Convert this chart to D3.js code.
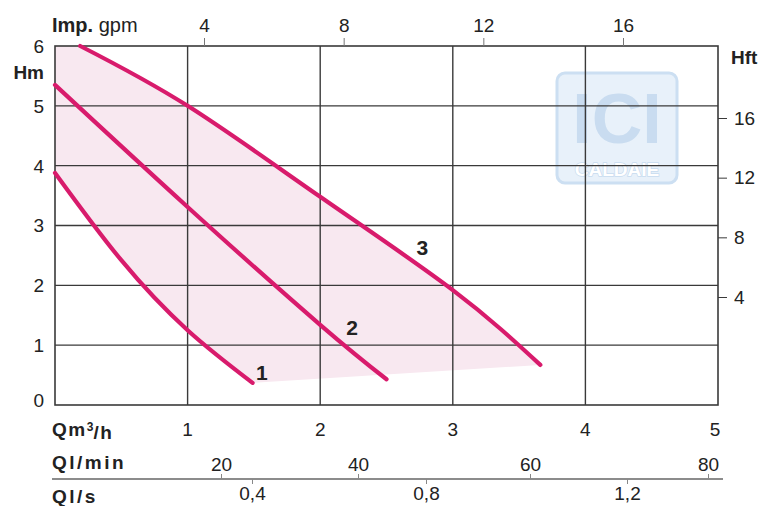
<!DOCTYPE html>
<html>
<head>
<meta charset="utf-8">
<script src="https://cdn.jsdelivr.net/npm/d3@7"></script>
<style>
  body { margin: 0; background: #fff; }
  text { font-family: "Liberation Sans", Arial, sans-serif; fill: #222; }
</style>
</head>
<body>
<div id="chart"></div>
<script>
const width = 764;
const height = 506;

// pump curves, flow in m3/h and head in m
const curve1Q = [0, 0.5, 1.0, 1.49];
const curve1H = [3.88, 2.42, 1.25, 0.37];
const curve2Q = [0, 1.0, 2.0, 2.50];
const curve2H = [5.35, 3.31, 1.34, 0.43];
const curve3Q = [0.19, 1.0, 2.0, 3.0, 3.66];
const curve3H = [6.0, 5.0, 3.48, 1.92, 0.67];
const curveNames = ["1", "2", "3"];
const labelQ = [1.56, 2.24, 2.77];
const labelH = [0.55, 1.29, 2.63];

const hmTicks = [0, 1, 2, 3, 4, 5, 6];
const qTicks = [1, 2, 3, 4, 5];
const gpmTicks = [4, 8, 12, 16];
const hftTicks = [4, 8, 12, 16];
const lminTicks = [20, 40, 60, 80];
const lsTicks = [0.4, 0.8, 1.2];

const pink = "#d81b6c";
const grid = "#3a3a3a";

const svg = d3.select("#chart").append("svg")
    .attr("width", width)
    .attr("height", height);

const x = d3.scaleLinear().domain([0, 5]).range([55, 718]);
const y = d3.scaleLinear().domain([0, 6]).range([405, 46]);
// the secondary scales in the source are not exactly proportional
const gpm = d3.scaleLinear().domain([4, 16]).range([204, 623]);
const hft = d3.scaleLinear().domain([4, 16]).range([297, 118]);
const lmin = d3.scaleLinear().domain([20, 40, 60, 80]).range([221, 358, 530, 708]);
const ls = d3.scaleLinear().domain([0.4, 0.8, 1.2]).range([252, 426, 627]);

const pts = (qs, hs) => qs.map((q, i) => [q, hs[i]]);
const c1 = pts(curve1Q, curve1H);
const c2 = pts(curve2Q, curve2H);
const c3 = pts(curve3Q, curve3H);

const line = d3.line()
    .x(d => x(d[0]))
    .y(d => y(d[1]))
    .curve(d3.curveNatural);

// shaded working area
const shade = "M" + x(0) + "," + y(6)
    + line(c3).replace(/^M/, "L")
    + line(c1.slice().reverse()).replace(/^M/, "L")
    + "Z";
svg.append("path")
    .attr("d", shade)
    .attr("fill", "#f8e8f0");

// watermark
const wm = svg.append("g").attr("opacity", 0.75);
wm.append("rect")
    .attr("x", 557).attr("y", 73).attr("width", 120).attr("height", 110)
    .attr("rx", 8)
    .attr("fill", "#e1edf9")
    .attr("stroke", "#bcd5ee").attr("stroke-width", 3);
wm.append("text")
    .attr("x", 617).attr("y", 143)
    .attr("text-anchor", "middle")
    .attr("font-size", 70).attr("font-weight", 700)
    .style("fill", "#b7d1eb")
    .text("ICI");
wm.append("text")
    .attr("x", 617).attr("y", 176)
    .attr("text-anchor", "middle")
    .attr("font-size", 19).attr("font-weight", 700)
    .style("fill", "#ffffff")
    .attr("stroke", "#b7d1eb").attr("stroke-width", 1.5)
    .attr("paint-order", "stroke")
    .text("CALDAIE");

// grid
svg.append("g").selectAll("line")
    .data(qTicks.slice(0, -1))
    .join("line")
    .attr("x1", d => x(d)).attr("x2", d => x(d))
    .attr("y1", y(0)).attr("y2", y(6))
    .attr("stroke", grid).attr("stroke-width", 1.4);
svg.append("g").selectAll("line")
    .data(hmTicks.slice(1, -1))
    .join("line")
    .attr("x1", x(0)).attr("x2", x(5))
    .attr("y1", d => y(d)).attr("y2", d => y(d))
    .attr("stroke", grid).attr("stroke-width", 1.4);
svg.append("rect")
    .attr("x", x(0)).attr("y", y(6))
    .attr("width", x(5) - x(0)).attr("height", y(0) - y(6))
    .attr("fill", "none")
    .attr("stroke", grid).attr("stroke-width", 1.6);

// curves
svg.append("g").selectAll("path")
    .data([c1, c2, c3])
    .join("path")
    .attr("d", line)
    .attr("fill", "none")
    .attr("stroke", pink)
    .attr("stroke-width", 4.2)
    .attr("stroke-linecap", "round");

svg.append("g").selectAll("text")
    .data(curveNames)
    .join("text")
    .attr("x", (d, i) => x(labelQ[i]))
    .attr("y", (d, i) => y(labelH[i]))
    .attr("dy", "0.36em")
    .attr("text-anchor", "middle")
    .attr("font-size", 21).attr("font-weight", 700)
    .text(d => d);

const fs = 19;

// left axis (Hm)
svg.append("g").selectAll("text")
    .data(hmTicks)
    .join("text")
    .attr("x", 44)
    .attr("y", d => d === 0 ? y(d) - 5 : y(d))
    .attr("dy", "0.36em")
    .attr("text-anchor", "end")
    .attr("font-size", fs)
    .text(d => d);
svg.append("text")
    .attr("x", 44).attr("y", 72).attr("dy", "0.36em")
    .attr("text-anchor", "end")
    .attr("font-size", fs).attr("font-weight", 700)
    .text("Hm");

// right axis (Hft)
const rightAxis = svg.append("g")
    .attr("transform", "translate(" + x(5) + ",0)")
    .call(d3.axisRight(hft).tickValues(hftTicks).tickSize(9).tickPadding(7));
rightAxis.select(".domain").remove();
rightAxis.selectAll("line").attr("stroke", grid);
rightAxis.selectAll("text").attr("font-size", fs).style("fill", "#222");
svg.append("text")
    .attr("x", 731).attr("y", 57).attr("dy", "0.36em")
    .attr("font-size", fs).attr("font-weight", 700)
    .text("Hft");

// top axis (Imp. gpm)
const topAxis = svg.append("g")
    .attr("transform", "translate(0," + y(6) + ")")
    .call(d3.axisTop(gpm).tickValues(gpmTicks).tickSize(8).tickPadding(6));
topAxis.select(".domain").remove();
topAxis.selectAll("line").attr("stroke", "#777");
topAxis.selectAll("text").attr("font-size", fs).style("fill", "#222");
const impLabel = svg.append("text")
    .attr("x", 52).attr("y", 32)
    .attr("font-size", 20);
impLabel.append("tspan").attr("font-weight", 700).text("Imp.");
impLabel.append("tspan").text(" gpm");

// bottom axis (Qm3/h)
svg.append("g").selectAll("text")
    .data(qTicks)
    .join("text")
    .attr("x", d => d === 5 ? x(d) - 3 : x(d))
    .attr("y", 429).attr("dy", "0.36em")
    .attr("text-anchor", "middle")
    .attr("font-size", fs)
    .text(d => d);
const qLabel = svg.append("text")
    .attr("x", 52).attr("y", 429).attr("dy", "0.36em")
    .attr("font-size", fs).attr("font-weight", 700)
    .attr("letter-spacing", 1.5);
qLabel.append("tspan").text("Qm");
qLabel.append("tspan").attr("dy", "-0.4em").attr("font-size", 12).attr("letter-spacing", 0).text("3");
qLabel.append("tspan").attr("dy", "0.4em").text("/h");

// Ql/min and Ql/s share one base line
const lineY = 479;
svg.append("line")
    .attr("x1", 52).attr("x2", 723)
    .attr("y1", lineY).attr("y2", lineY)
    .attr("stroke", "#666").attr("stroke-width", 1.4);

const minAxis = svg.append("g")
    .attr("transform", "translate(0," + lineY + ")")
    .call(d3.axisTop(lmin).tickValues(lminTicks).tickSize(5).tickPadding(3));
minAxis.select(".domain").remove();
minAxis.selectAll("line").attr("stroke", "#888");
minAxis.selectAll("text").attr("font-size", fs).style("fill", "#222");

const sAxis = svg.append("g")
    .attr("transform", "translate(0," + lineY + ")")
    .call(d3.axisBottom(ls).tickValues(lsTicks).tickSize(5).tickPadding(3)
        .tickFormat(d => String(d).replace(".", ",")));
sAxis.select(".domain").remove();
sAxis.selectAll("line").attr("stroke", "#888");
sAxis.selectAll("text").attr("font-size", fs).style("fill", "#222");

svg.append("text")
    .attr("x", 52).attr("y", 462).attr("dy", "0.36em")
    .attr("font-size", fs).attr("font-weight", 700)
    .attr("letter-spacing", 2.5)
    .text("Ql/min");
svg.append("text")
    .attr("x", 52).attr("y", 496).attr("dy", "0.36em")
    .attr("font-size", fs).attr("font-weight", 700)
    .attr("letter-spacing", 2.5)
    .text("Ql/s");
</script>
</body>
</html>
